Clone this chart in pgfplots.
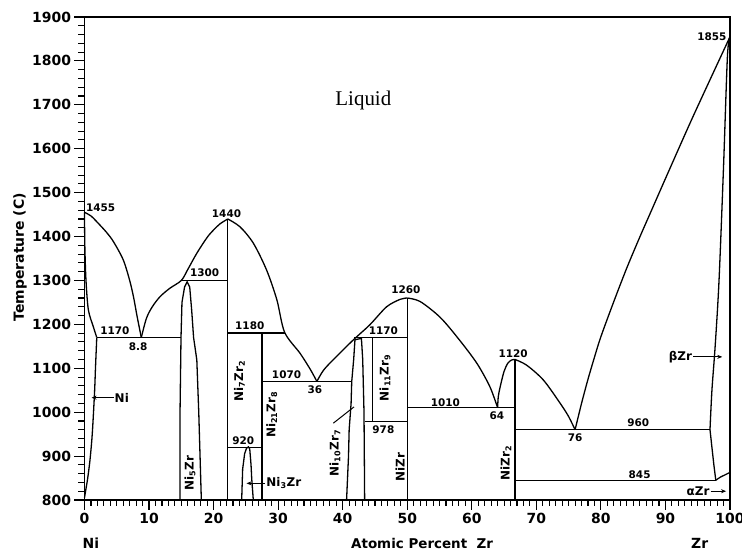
\documentclass[border=0pt]{standalone}
\usepackage{fontspec}
\setmainfont{DejaVu Sans}
\newfontfamily\serifliq{Liberation Serif}
\usepackage{pgfplots}
\pgfplotsset{compat=1.18}
\usetikzlibrary{arrows.meta}
\newcommand{\ann}{\fontsize{10.5}{12}\selectfont\bfseries}
\newcommand{\phs}{\fontsize{12}{14}\selectfont\bfseries}
\begin{document}
\begin{tikzpicture}
\path[use as bounding box] (-84.5bp,-53bp) rectangle (657.5bp,500bp);
\begin{axis}[
  scale only axis, width=645.5bp, height=483bp,
  xmin=0,xmax=100,ymin=800,ymax=1900,
  xtick={0,10,...,100}, ytick={800,900,...,1900},
  minor x tick num=9, minor y tick num=4,
  tick align=outside, xtick pos=left, ytick pos=left,
  major tick length=10bp, minor tick length=6bp,
  every tick/.style={black, line width=1.1bp},
  axis line style={line width=1.8bp},
  tick label style={font=\fontsize{14}{16}\selectfont\bfseries},
  /pgf/number format/1000 sep={},
  /pgf/number format/assume math mode=true,
  clip=false,
  cycle list={{black,solid,no marks}},
  every axis plot/.append style={black, solid, line width=1.3bp, no marks},
]
% liquidus
\addplot[smooth] coordinates {(0,1455) (1,1447) (2.4,1426) (3.5,1408) (4.5,1388) (6.0,1347) (7.0,1300) (7.6,1262) (8.1,1222) (8.5,1192) (8.8,1170)};
\addplot[smooth] coordinates {(8.8,1170) (9.6,1214) (10.5,1240) (11.7,1263) (13.2,1282) (15.0,1300) (16,1325) (17.4,1362) (19,1398) (20,1415) (21,1429) (22.2,1440)};
\addplot[smooth] coordinates {(22.2,1440) (24.1,1422) (26.15,1385) (28.2,1324) (29.8,1256) (31,1182) (33.4,1134) (35,1097) (36,1070)};
\addplot[smooth] coordinates {(36,1070) (37,1095) (38.5,1119) (41.6,1164) (44.2,1199) (46.8,1240) (48.9,1257) (50,1260)};
\addplot[smooth] coordinates {(50,1260) (52,1252) (55.1,1216) (58,1166) (60.8,1111) (62.8,1058) (64,1010)};
\addplot[smooth] coordinates {(64,1010) (64.1,1035) (64.4,1058) (65,1093) (65.6,1112) (66.2,1119) (66.7,1120)};
\addplot[smooth] coordinates {(66.7,1120) (68.5,1107) (71.1,1073) (73.7,1020) (75,990) (76,960)};
\addplot[smooth] coordinates {(76,960) (77,1020) (78,1075) (79,1125) (80,1172) (82,1252) (84,1328) (86,1398) (88,1465) (90,1532) (93.8,1658) (96.9,1757) (100,1855)};
% Ni solid solution
\addplot[smooth] coordinates {(0,1455) (0.05,1380) (0.23,1300) (0.6,1233) (1.36,1195) (1.9,1170)};
\addplot[smooth] coordinates {(1.9,1170) (1.7,1100) (1.55,1043) (1.2,950) (0.85,891) (0.5,850) (0.2,823) (0,805)};
% Ni5Zr
\addplot coordinates {(14.8,800) (14.8,1000) (14.95,1170) (15.1,1250) (15.5,1285) (15.9,1297) (16.3,1285) (16.6,1233) (16.9,1170) (17.4,1119) (17.7,1000) (18.1,800)};
% Ni3Zr
\addplot coordinates {(24.35,800) (24.5,870) (24.8,905) (25.1,918) (25.4,921) (25.6,916) (25.8,880) (25.9,850) (26.15,800)};
% Ni10Zr7
\addplot coordinates {(40.6,800) (40.9,900) (41.0,960) (41.3,1020) (41.4,1070) (41.7,1120) (41.9,1165) (42.9,1168) (43.1,1120) (43.3,1000) (43.4,800)};
% beta Zr
\addplot[smooth] coordinates {(100,1855) (99.6,1810) (99.0,1560) (98.3,1300) (97.7,1150) (97.2,1050) (96.9,960)};
\addplot coordinates {(96.9,960) (97.2,920) (97.5,880) (97.8,845)};
\addplot[smooth] coordinates {(97.8,845) (98.5,852) (99.2,857) (100,863)};
% horizontals and verticals
\addplot coordinates {(1.9,1170) (14.9,1170)};
\addplot coordinates {(15.0,1300) (22.2,1300)};
\addplot coordinates {(22.2,800) (22.2,1440)};
\addplot coordinates {(22.2,1180) (31,1180)};
\addplot coordinates {(27.5,800) (27.5,1180)};
\addplot coordinates {(22.2,920) (27.5,920)};
\addplot coordinates {(27.5,1070) (41.4,1070)};
\addplot coordinates {(41.8,1170) (50,1170)};
\addplot coordinates {(44.6,978) (44.6,1170)};
\addplot coordinates {(43.4,978) (50,978)};
\addplot coordinates {(50,800) (50,1260)};
\addplot coordinates {(50,1010) (66.7,1010)};
\addplot coordinates {(66.7,800) (66.7,1120)};
\addplot coordinates {(66.7,960) (96.9,960)};
\addplot coordinates {(66.7,845) (97.8,845)};
% leader lines
\addplot[line width=1bp] coordinates {(38.55,975) (41.75,1012)};
\draw[-{Stealth[length=5bp,width=4bp]}, line width=1bp] (axis cs:4.5,1033) -- (axis cs:1.1,1033);
\draw[-{Stealth[length=5bp,width=4bp]}, line width=1bp] (axis cs:28.0,838) -- (axis cs:25.1,838);
\draw[-{Stealth[length=5bp,width=4bp]}, line width=1bp] (axis cs:94.3,1126) -- (axis cs:98.8,1126);
\draw[-{Stealth[length=5bp,width=4bp]}, line width=1bp] (axis cs:97.0,820) -- (axis cs:99.4,820);
% numeric annotations
\node[font=\ann] at (axis cs:2.5,1466) {1455};
\node[font=\ann] at (axis cs:22.0,1453) {1440};
\node[font=\ann] at (axis cs:18.6,1318) {1300};
\node[font=\ann] at (axis cs:4.7,1185) {1170};
\node[font=\ann] at (axis cs:8.3,1150) {8.8};
\node[font=\ann] at (axis cs:25.6,1196) {1180};
\node[font=\ann] at (axis cs:31.3,1085) {1070};
\node[font=\ann] at (axis cs:35.7,1052) {36};
\node[font=\ann] at (axis cs:24.6,934) {920};
\node[font=\ann] at (axis cs:49.8,1278) {1260};
\node[font=\ann] at (axis cs:46.3,1186) {1170};
\node[font=\ann] at (axis cs:46.3,960) {978};
\node[font=\ann] at (axis cs:55.9,1022) {1010};
\node[font=\ann] at (axis cs:63.9,991) {64};
\node[font=\ann] at (axis cs:66.4,1133) {1120};
\node[font=\ann] at (axis cs:76.0,941) {76};
\node[font=\ann] at (axis cs:85.8,975) {960};
\node[font=\ann] at (axis cs:86.0,858) {845};
\node[font=\ann] at (axis cs:97.2,1855) {1855};
% phase labels
\node[font=\phs, rotate=90] at (axis cs:16.35,861) {Ni\textsubscript{5}Zr};
\node[font=\phs, rotate=90] at (axis cs:24.0,1071) {Ni\textsubscript{7}Zr\textsubscript{2}};
\node[font=\phs, rotate=90] at (axis cs:29.0,994) {Ni\textsubscript{21}Zr\textsubscript{8}};
\node[font=\phs, rotate=90] at (axis cs:38.8,907) {Ni\textsubscript{10}Zr\textsubscript{7}};
\node[font=\phs, rotate=90] at (axis cs:46.55,1078) {Ni\textsubscript{11}Zr\textsubscript{9}};
\node[font=\phs, rotate=90] at (axis cs:48.9,875) {NiZr};
\node[font=\phs, rotate=90] at (axis cs:65.3,884) {NiZr\textsubscript{2}};
\node[font=\phs, anchor=west, inner sep=1bp] at (axis cs:28.0,838) {Ni\textsubscript{3}Zr};
\node[font=\phs, anchor=west, inner sep=1bp] at (axis cs:4.5,1033) {Ni};
\node[font=\phs, anchor=east, inner sep=1bp] at (axis cs:94.3,1126) {βZr};
\node[font=\phs, anchor=east, inner sep=1bp] at (axis cs:97.0,820) {αZr};
\node[font=\serifliq\fontsize{21}{24}\selectfont] at (axis cs:43.2,1711) {Liquid};
% axis labels
\node[font=\fontsize{14}{16}\selectfont\bfseries, rotate=90] at (axis cs:-10.0,1353) {Temperature (C)};
\node[font=\fontsize{14}{16}\selectfont\bfseries] at (axis cs:1.0,702) {Ni};
\node[font=\fontsize{13.5}{16}\selectfont\bfseries] at (axis cs:52.3,702) {Atomic Percent\hspace{0.7em}Zr};
\node[font=\fontsize{14}{16}\selectfont\bfseries] at (axis cs:95.3,702) {Zr};
\end{axis}
\end{tikzpicture}
\end{document}
